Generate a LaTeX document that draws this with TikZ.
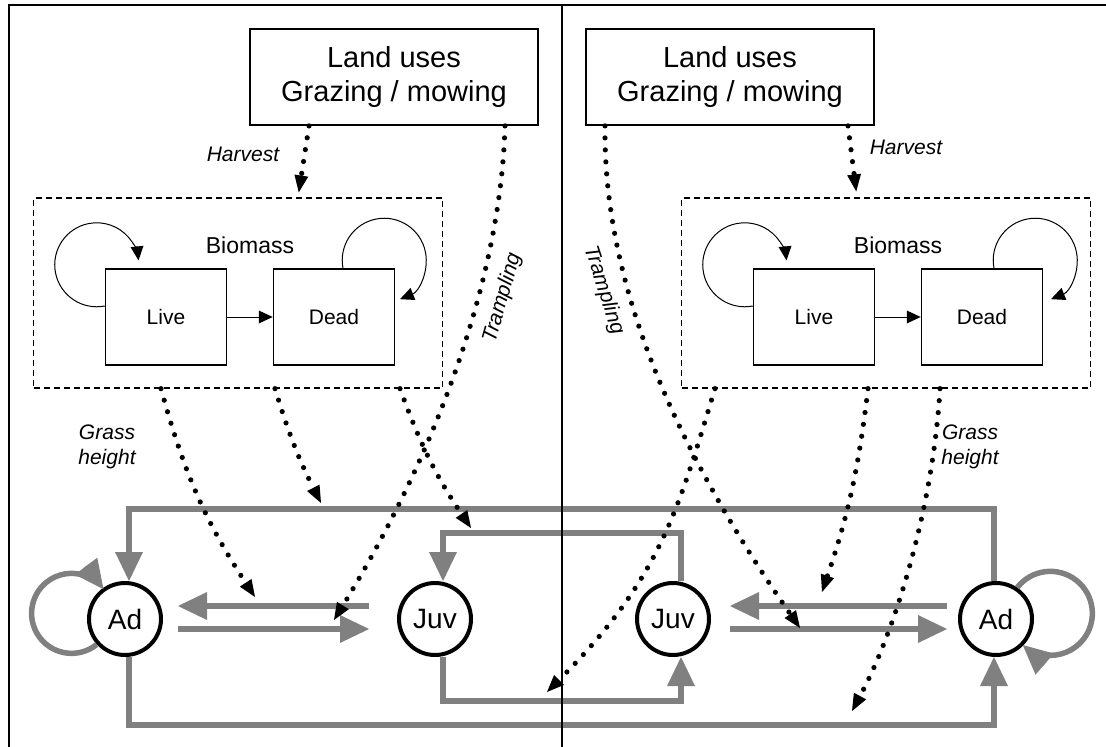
\documentclass[tikz,border=0pt]{standalone}
\usepackage{fontspec}
\setmainfont{Liberation Sans}
\usepackage{tikz}
\usetikzlibrary{arrows.meta,calc}

\begin{document}
\begin{tikzpicture}[x=1pt,y=1pt,
  landbox/.style={draw, line width=1.8pt, minimum width=288pt, minimum height=96pt, inner sep=0pt, align=center, font=\fontsize{29}{34}\selectfont},
  pool/.style={draw, line width=1.3pt, dash pattern=on 6pt off 4pt, minimum width=409pt, minimum height=190pt, inner sep=0pt},
  part/.style={draw, line width=1.5pt, minimum width=121pt, minimum height=96pt, inner sep=0pt, font=\fontsize{21}{25}\selectfont},
  stage/.style={circle, draw, line width=4pt, minimum size=72pt, inner sep=0pt, font=\fontsize{28}{30}\selectfont},
  flow/.style={draw=gray, line width=5.5pt, -{Triangle[length=29pt,width=28pt,line width=0pt]}},
  effect/.style={line width=5.2pt, line cap=round, dash pattern=on 0pt off 12pt, -{Triangle[length=17pt,width=14pt,line width=0pt]}},
  turnover/.style={line width=1pt, -{Triangle[length=14pt,width=13pt,line width=0pt]}},
  lbl/.style={font=\fontsize{21}{25}\selectfont\itshape, align=center}]
  \useasboundingbox (0,0) rectangle (1106,-747);

  \node[landbox] (landL) at (394,-77) {Land uses\\Grazing / mowing};
  \node[landbox] (landR) at (730,-77) {Land uses\\Grazing / mowing};

  \node[pool] (bioL) at (238,-293) {};
  \node[pool] (bioR) at (886,-293) {};
  \node[font=\fontsize{23}{25}\selectfont] (massL) at (250,-245) {Biomass};
  \node[font=\fontsize{23}{25}\selectfont] (massR) at (898,-245) {Biomass};
  \node[part] (liveL) at (166,-317) {Live};
  \node[part] (deadL) at (334,-317) {Dead};
  \node[part] (liveR) at (814,-317) {Live};
  \node[part] (deadR) at (982,-317) {Dead};

  \draw[turnover] (liveL) -- (deadL);
  \draw[turnover] (liveR) -- (deadR);
  \draw[turnover] ([yshift=11pt]liveL.west) arc[start angle=-79, end angle=-354, radius=42];
  \draw[turnover] ([xshift=9pt]deadL.north) arc[start angle=191, end angle=-68, radius=42];
  \draw[turnover] ([yshift=11pt]liveR.west) arc[start angle=-79, end angle=-354, radius=42];
  \draw[turnover] ([xshift=12pt]deadR.north) arc[start angle=191, end angle=-68, radius=42];

  \node[stage] (adL) at (125,-619) {Ad};
  \node[stage] (juvL) at (435,-619) {Juv};
  \node[stage] (juvR) at (673,-619) {Juv};
  \node[stage] (adR) at (996,-619) {Ad};

  \draw[flow] ([xshift=-2pt]adR.north) -- ++(0,72) -| ([xshift=4pt]adL.north);
  \draw[flow] ([xshift=4pt]adL.south) -- ++(0,-68) -| ([xshift=-2pt]adR.south);
  \draw[flow] ([xshift=8pt]juvR.north) -- ++(0,48) -| ([xshift=8pt]juvL.north);
  \draw[flow] ([xshift=8pt]juvL.south) -- ++(0,-44) -| ([xshift=8pt]juvR.south);
  \draw[flow] ($(juvL.west)+(-28,13)$) -- ($(adL.east)+(15,13)$);
  \draw[flow] ($(adL.east)+(15,-10)$) -- ($(juvL.west)+(-28,-10)$);
  \draw[flow] ($(adR.west)+(-11,13)$) -- ($(juvR.east)+(19,13)$);
  \draw[flow] ($(juvR.east)+(19,-10)$) -- ($(adR.west)+(-11,-10)$);
  \draw[flow] (adL.222) arc[start angle=-51, end angle=-323, radius=40];
  \draw[flow] (adR.56) arc[start angle=142, end angle=-131, radius=42];

  \draw[line width=2.5pt] (9,-747) -- (9,-5) -- (1106,-5);
  \draw[line width=2.5pt] (562,-5) -- (562,-747);

  \draw[effect, shorten >=5pt] ([xshift=-85pt]landL.south) -- ([xshift=60pt]bioL.north);
  \draw[effect, shorten >=6pt] ([xshift=118pt]landR.south) -- ([xshift=-29pt]bioR.north);
  \draw[effect] ([xshift=111pt]landL.south) .. controls +(-5,-173) and +(86,140) .. ($(juvL.center)+(-101,-1)$);
  \draw[effect] ([xshift=-125pt]landR.south) .. controls +(-2,-173) and +(-110,158) .. ($(juvR.center)+(127,-9)$);
  \draw[effect] ([xshift=-77pt]bioL.south) to[bend right=9] ($(adL.center)+(130,22)$);
  \draw[effect] ([xshift=37pt]bioL.south) to[bend right=5] ($(adL.north)+(196,78)$);
  \draw[effect] ([xshift=162pt]bioL.south) to[bend right=7] ($(juvL.north)+(36,53)$);
  \draw[effect] ([xshift=-171pt]bioR.south) .. controls +(-37,-121) and +(114,114) .. ($(juvL.center)+(112,-73)$);
  \draw[effect] ([xshift=-18pt]bioR.south) to[bend left=6] ($(juvR.center)+(149,27)$);
  \draw[effect] ([xshift=54pt]bioR.south) .. controls +(-7,-120) and +(43,80) .. ($(adR.center)+(-144,-92)$);

  \node[lbl] (harvL) at (243,-154) {Harvest};
  \node[lbl] (harvR) at (906,-147) {Harvest};
  \node[lbl, rotate=74] (tramL) at (503,-298) {Trampling};
  \node[lbl, rotate=-72] (tramR) at (604,-290) {Trampling};
  \node[lbl] (grassL) at (107,-447) {Grass\\height};
  \node[lbl] (grassR) at (970,-447) {Grass\\height};
\end{tikzpicture}
\end{document}
